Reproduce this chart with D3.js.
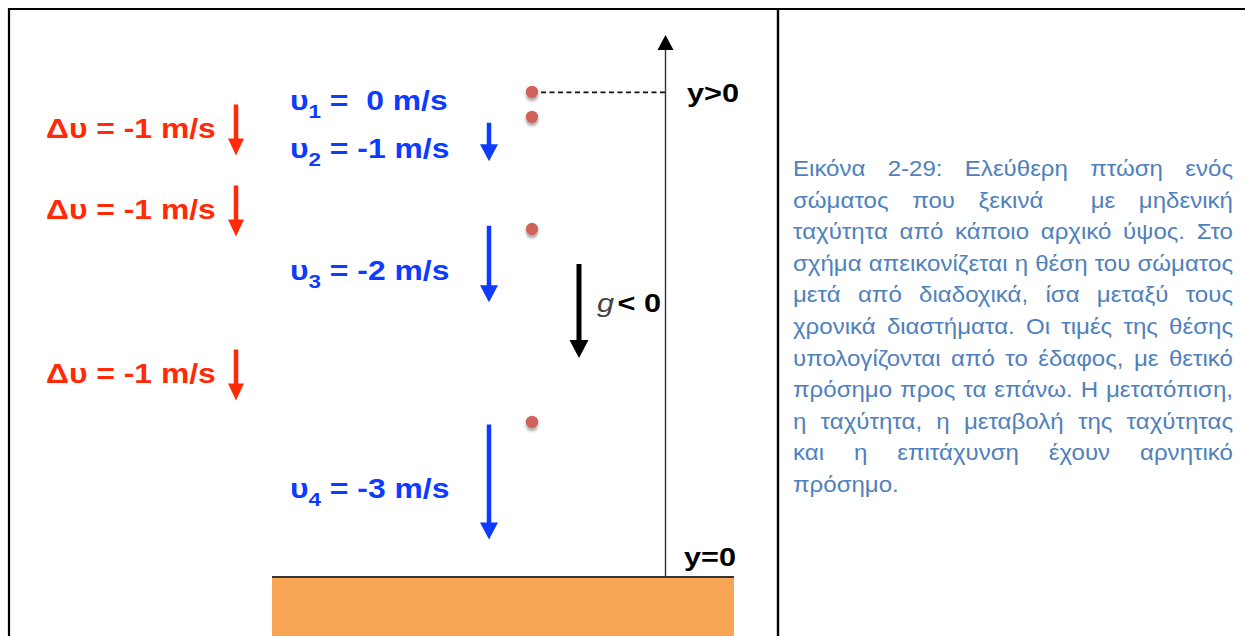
<!DOCTYPE html>
<html>
<head>
<meta charset="utf-8">
<script src="https://cdn.jsdelivr.net/npm/d3@7"></script>
<style>
  html, body { margin: 0; padding: 0; background: #fff; }
  svg { display: block; }
</style>
</head>
<body>
<script>
// ---------------- data ----------------
const velocities = [0, -1, -2, -3];                 // m/s, υ1..υ4
const velocitySubscripts = ["1", "2", "3", "4"];
const deltaVelocities = [-1, -1, -1];                // Δυ between successive samples
const positions = [89.5, 84.9, 64.2, 28.6];          // height above ground (arbitrary units)
const axisLabels = ["y>0", "y=0"];
const gravityLabel = ["g", "< 0"];
const captionLines = [
  "Εικόνα 2-29: Ελεύθερη πτώση ενός",
  "σώματος που ξεκινά  με μηδενική",
  "ταχύτητα από κάποιο αρχικό ύψος. Στο",
  "σχήμα απεικονίζεται η θέση του σώματος",
  "μετά από διαδοχικά, ίσα μεταξύ τους",
  "χρονικά διαστήματα. Οι τιμές της θέσης",
  "υπολογίζονται από το έδαφος, με θετικό",
  "πρόσημο προς τα επάνω. Η μετατόπιση,",
  "η ταχύτητα, η μεταβολή της ταχύτητας",
  "και η επιτάχυνση έχουν αρνητικό",
  "πρόσημο."
];

// ---------------- setup ----------------
const W = 1245, H = 636;
const svg = d3.select("body").append("svg").attr("width", W).attr("height", H);
const FONT = "'Liberation Sans', Arial, Helvetica, sans-serif";
const SX = 1.18; // horizontal stretch of the original drawing's lettering

const defs = svg.append("defs");
const f = defs.append("filter").attr("id", "shadow").attr("x", "-100%").attr("y", "-100%").attr("width", "300%").attr("height", "300%");
f.append("feDropShadow").attr("dx", 0).attr("dy", 3).attr("stdDeviation", 1.8)
  .attr("flood-color", "#000").attr("flood-opacity", 0.35);

// scales
const groundY = 577, axisTopY = 35;
const hScale = d3.scaleLinear().domain([0, 100]).range([groundY, axisTopY]);
const vLen = d3.scaleLinear().domain([0, 3]).range([0, 115]);     // blue arrow length
const dvLen = d3.scaleLinear().domain([0, 1]).range([0, 51]);     // red arrow length

function downArrow(g, x, y0, y1, color, shaftW, headW, headH) {
  const p = d3.path();
  p.moveTo(x - shaftW / 2, y0);
  p.lineTo(x + shaftW / 2, y0);
  p.lineTo(x + shaftW / 2, y1 - headH);
  p.lineTo(x + headW / 2, y1 - headH);
  p.lineTo(x, y1);
  p.lineTo(x - headW / 2, y1 - headH);
  p.lineTo(x - shaftW / 2, y1 - headH);
  p.closePath();
  g.append("path").attr("d", p.toString()).attr("fill", color);
}
function label(g, x, y, size) {
  return g.append("text").attr("transform", `translate(${x},${y}) scale(${SX},1)`)
    .attr("font-family", FONT).attr("font-size", size).style("white-space", "pre");
}

// ---------------- frame ----------------
svg.append("line").attr("x1", 8).attr("x2", W).attr("y1", 9).attr("y2", 9).attr("stroke", "#000").attr("stroke-width", 2.2);
svg.append("line").attr("x1", 9).attr("x2", 9).attr("y1", 8).attr("y2", H).attr("stroke", "#000").attr("stroke-width", 2.2);
svg.append("line").attr("x1", 778).attr("x2", 778).attr("y1", 8).attr("y2", H).attr("stroke", "#000").attr("stroke-width", 2.4);

// ---------------- ground ----------------
const groundX0 = 272, groundX1 = 734;
svg.append("rect").attr("x", groundX0).attr("y", groundY).attr("width", groundX1 - groundX0).attr("height", H - groundY)
  .attr("fill", "#f8a655");
svg.append("line").attr("x1", groundX0).attr("x2", groundX1).attr("y1", groundY).attr("y2", groundY)
  .attr("stroke", "#333").attr("stroke-width", 2);

// ---------------- vertical axis ----------------
const axisX = 665.5;
svg.append("line").attr("x1", axisX).attr("x2", axisX).attr("y1", hScale(0)).attr("y2", axisTopY + 12)
  .attr("stroke", "#333").attr("stroke-width", 1.4);
svg.append("path").attr("d", `M${axisX},${axisTopY} L${axisX + 8},${axisTopY + 15} L${axisX - 8},${axisTopY + 15} Z`).attr("fill", "#000");

label(svg, 687, 102, 26).attr("font-weight", "bold").attr("fill", "#000").text(axisLabels[0]);
label(svg, 684, 566, 26).attr("font-weight", "bold").attr("fill", "#000").text(axisLabels[1]);

// dashed reference line from first position to axis
const dotX = 532;
svg.append("line").attr("x1", dotX + 9).attr("x2", axisX + 3).attr("y1", hScale(positions[0]) + 0.5).attr("y2", hScale(positions[0]) + 0.5)
  .attr("stroke", "#111").attr("stroke-width", 1.6).attr("stroke-dasharray", "5,3.5");

// ---------------- body positions ----------------
svg.append("g").selectAll("circle").data(positions).join("circle")
  .attr("cx", dotX).attr("cy", d => hScale(d)).attr("r", 6.2)
  .attr("fill", "#cf625a").attr("filter", "url(#shadow)");

// ---------------- velocities (blue) ----------------
const blue = "#0d3bff";
const velBaselines = [110, 158, 280, 498];
const gv = svg.append("g");
velocities.forEach((v, i) => {
  const t = label(gv, 290, velBaselines[i], 27).attr("font-weight", "bold").attr("fill", blue);
  t.append("tspan").text("υ");
  t.append("tspan").attr("font-size", 19).attr("dy", 8).text(velocitySubscripts[i]);
  t.append("tspan").attr("dy", -8).text(v === 0 ? " =  0 m/s" : ` = ${v} m/s`);
  const len = vLen(Math.abs(v));
  if (len > 0) {
    const c = velBaselines[i] - 16;
    downArrow(gv, 489, c - len / 2, c + len / 2, blue, 4.5, 18, 17);
  }
});

// ---------------- velocity changes (red) ----------------
const red = "#ff2a08";
const dvBaselines = [138, 219, 383];
const gr = svg.append("g");
deltaVelocities.forEach((dv, i) => {
  label(gr, 46, dvBaselines[i], 27).attr("font-weight", "bold").attr("fill", red)
    .text(`Δυ = ${dv} m/s`);
  const len = dvLen(Math.abs(dv));
  const c = dvBaselines[i] - 8;
  downArrow(gr, 236, c - len / 2, c + len / 2, red, 4.5, 16, 17);
});

// ---------------- gravity ----------------
downArrow(svg, 579, 264, 358, "#000", 5, 19, 18);
const gt = label(svg, 597, 312, 26);
gt.append("tspan").attr("font-style", "italic").attr("fill", "#444").text(gravityLabel[0]);
gt.append("tspan").attr("font-weight", "bold").attr("fill", "#000").attr("dx", 3).text(gravityLabel[1]);

// ---------------- caption (justified) ----------------
const capX0 = 793, capX1 = 1233, capY0 = 176, capLH = 31.6, capSize = 22;
const gc = svg.append("g").attr("font-family", FONT).attr("font-size", capSize).attr("fill", "#4f81bd");
// measure natural widths to get the lettering's horizontal stretch
const probe = gc.append("text").style("white-space", "pre");
const natural = captionLines.map(l => { probe.text(l.replace(/  /g, " ")); return probe.node().getComputedTextLength(); });
probe.remove();
const capSX = (capX1 - capX0) / d3.max(natural) * 0.995;
const spaceW = (() => { const t = gc.append("text").text("a a"); const w3 = t.node().getComputedTextLength(); t.text("aa"); const w2 = t.node().getComputedTextLength(); t.remove(); return w3 - w2; })();
captionLines.forEach((line, i) => {
  const y = capY0 + i * capLH;
  const words = line.split(" ");
  const last = i === captionLines.length - 1;
  const nodes = words.map(w => gc.append("text").text(w));
  const widths = nodes.map(n => n.node().getComputedTextLength() * capSX);
  const total = d3.sum(widths);
  const gap = last || words.length < 2 ? spaceW * capSX : (capX1 - capX0 - total) / (words.length - 1);
  let x = capX0;
  nodes.forEach((n, k) => { n.attr("transform", `translate(${x},${y}) scale(${capSX},1)`); x += widths[k] + gap; });
});
</script>
</body>
</html>
